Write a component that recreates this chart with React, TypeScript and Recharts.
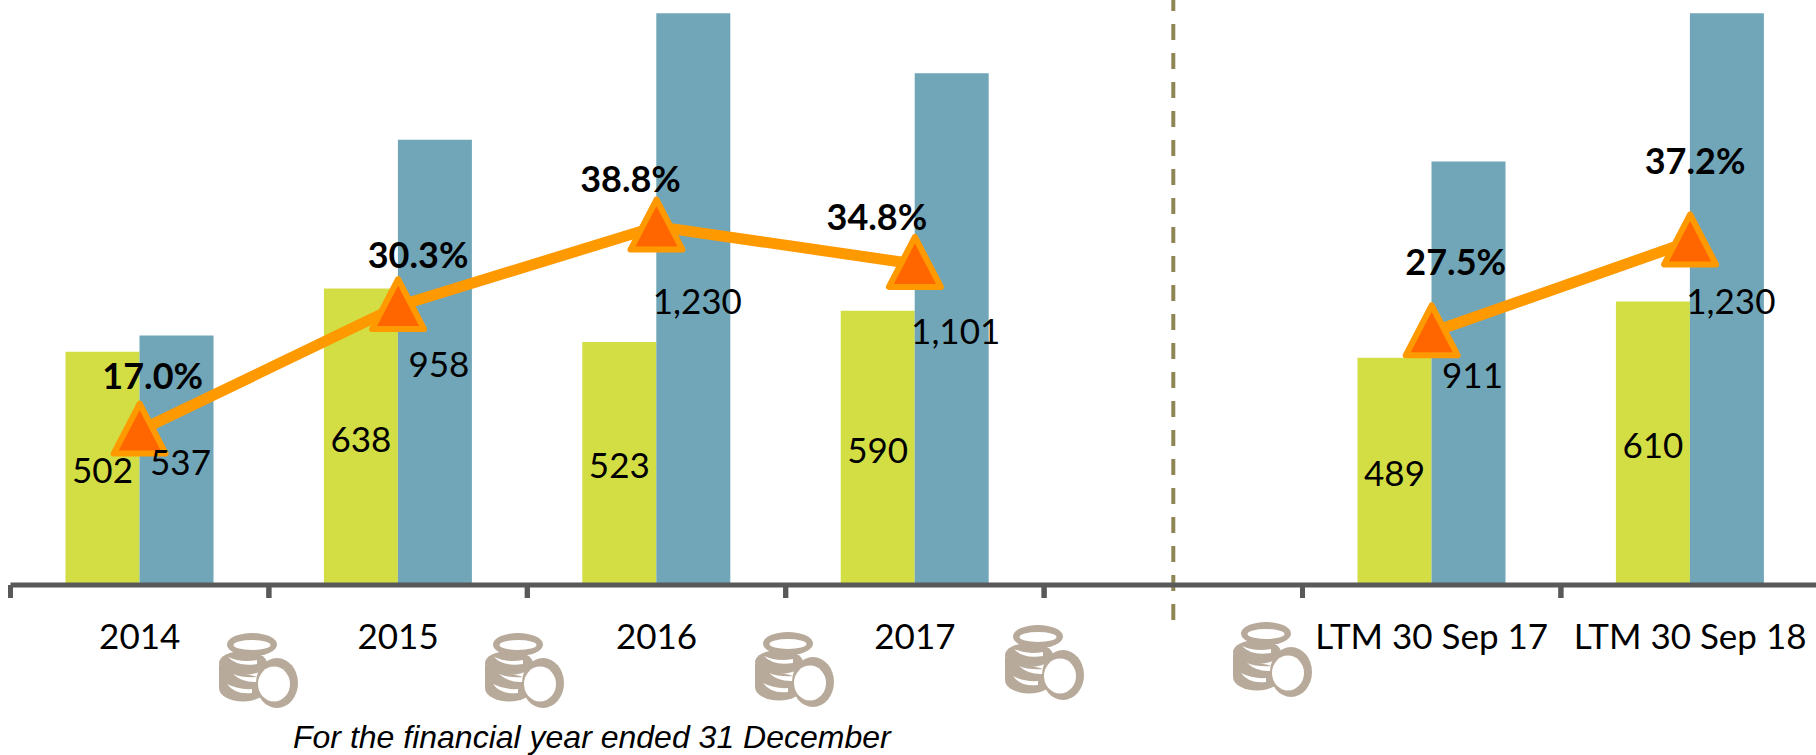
import { Bar, ComposedChart, LabelList, Line, ReferenceLine, XAxis, YAxis } from 'recharts';

const categories = ['2014', '2015', '2016', '2017', ' ', 'LTM 30 Sep 17', 'LTM 30 Sep 18'];
const greenValues = [502, 638, 523, 590, null, 489, 610];
const blueValues = [537, 958, 1230, 1101, null, 911, 1230];
const marginPct = [17.0, 30.3, 38.8, 34.8, null, 27.5, 37.2];

const data = categories.map((name, i) => ({
  name,
  green: greenValues[i],
  blue: blueValues[i],
  pct: marginPct[i],
}));

// hand placed in the original, so the % labels do not sit in one spot relative to the marker
const PCT_LABEL_NUDGE = [
  [13, -56],
  [20, -52],
  [-26, -49],
  [-38, -48],
  [0, 0],
  [24, -71],
  [5, -81],
];

const COIN_SPOTS = [
  [221, 633],
  [487, 633],
  [757, 632],
  [1007, 625],
  [1235, 622],
];

const BAND = 258.4;
const FONT = 'Lato, sans-serif';
const AXIS_COLOR = '#595959';

function BarValue({ x, y, width, height, value, dx = 0 }: any) {
  if (value == null) return null;
  return (
    <text
      x={x + width / 2 + dx}
      y={y + height / 2 + 1}
      textAnchor="middle"
      dominantBaseline="central"
      fontFamily={FONT}
      fontSize={35}
      fill="#000"
    >
      {Number(value).toLocaleString('en-US')}
    </text>
  );
}

function PctLabel({ x, y, value, index }: any) {
  if (value == null) return null;
  const [dx, dy] = PCT_LABEL_NUDGE[index];
  return (
    <text
      x={x + dx}
      y={y + dy}
      textAnchor="middle"
      dominantBaseline="central"
      fontFamily={FONT}
      fontWeight={700}
      fontSize={36}
      fill="#000"
    >
      {Number(value).toFixed(1)}%
    </text>
  );
}

function Marker({ cx, cy, value }: any) {
  if (value == null || cx == null) return null;
  return (
    <polygon
      points={`${cx},${cy - 27} ${cx - 26},${cy + 23} ${cx + 26},${cy + 23}`}
      fill="#FF6600"
      stroke="#FF9900"
      strokeWidth={6}
      strokeLinejoin="round"
    />
  );
}

// tick marks sit on the band edges, labels on the band centres
function BandTick({ x, payload }: any) {
  return (
    <g>
      <line x1={x - BAND / 2} x2={x - BAND / 2} y1={585} y2={598} stroke={AXIS_COLOR} strokeWidth={5} />
      <line x1={x + BAND / 2} x2={x + BAND / 2} y1={585} y2={598} stroke={AXIS_COLOR} strokeWidth={5} />
      <text x={x} y={649} textAnchor="middle" fontFamily={FONT} fontSize={35} fill="#000">
        {payload.value}
      </text>
    </g>
  );
}

// runs past the axis, down into the tick label row
function Divider({ x1, x2 }: any) {
  return <line x1={x1} x2={x2} y1={-5} y2={621} stroke="#8F8656" strokeWidth={4} strokeDasharray="16 13" />;
}

function Coins({ x, y }: { x: number; y: number }) {
  const c = '#B8AA9A';
  return (
    <g transform={`translate(${x},${y})`}>
      <ellipse cx={22} cy={30} rx={24} ry={12} fill={c} />
      <ellipse cx={22} cy={55} rx={24} ry={13.5} fill={c} />
      <rect x={-2} y={32} width={22} height={22} fill={c} />
      <path d="M7 24 Q20 30 36 27 L36 31 Q16 34 7 24Z" fill="#fff" />
      <path d="M12 41 Q22 45 36 44 L36 49 Q22 50 12 41Z" fill="#fff" />
      <path d="M6 51 Q18 57 31 56 L31 60 Q14 62 6 51Z" fill="#fff" />
      <ellipse cx={31} cy={11.5} rx={25} ry={11.5} fill={c} />
      <ellipse cx={31} cy={12} rx={18.5} ry={5} fill="#fff" />
      <ellipse cx={56} cy={50} rx={21} ry={25} fill={c} />
      <ellipse cx={53} cy={51} rx={16} ry={17.5} fill="#fff" />
    </g>
  );
}

export default function App() {
  return (
    <div style={{ position: 'absolute', left: 0, top: 0, width: 1816, height: 755, overflow: 'hidden', background: '#fff' }}>
      <ComposedChart
        width={1830}
        height={755}
        data={data}
        margin={{ top: 0, right: 10.7, bottom: 0, left: 10.5 }}
        barSize={74}
        barGap={0}
      >
        <XAxis
          dataKey="name"
          height={170}
          interval={0}
          tick={<BandTick />}
          tickLine={false}
          axisLine={{ stroke: AXIS_COLOR, strokeWidth: 5 }}
        />
        <YAxis yAxisId="value" hide domain={[0, 1258.6]} />
        <YAxis yAxisId="pct" hide orientation="right" domain={[0.5, 63]} />
        <ReferenceLine yAxisId="value" x=" " shape={<Divider />} ifOverflow="visible" />
        <Bar yAxisId="value" dataKey="green" fill="#D3DE44" isAnimationActive={false}>
          <LabelList dataKey="green" content={<BarValue />} />
        </Bar>
        <Bar yAxisId="value" dataKey="blue" fill="#71A6B8" isAnimationActive={false}>
          <LabelList dataKey="blue" content={<BarValue dx={4} />} />
        </Bar>
        <Line
          yAxisId="pct"
          dataKey="pct"
          stroke="#FF9900"
          strokeWidth={11}
          dot={<Marker />}
          activeDot={false}
          isAnimationActive={false}
        >
          <LabelList dataKey="pct" content={<PctLabel />} />
        </Line>
      </ComposedChart>
      <svg width={1816} height={755} style={{ position: 'absolute', left: 0, top: 0, pointerEvents: 'none' }}>
        {COIN_SPOTS.map(([x, y]) => (
          <Coins key={x} x={x} y={y} />
        ))}
        <text x={293} y={748} fontFamily="Liberation Sans, Arial, sans-serif" fontStyle="italic" fontSize={32} fill="#000">
          For the financial year ended 31 December
        </text>
      </svg>
    </div>
  );
}
